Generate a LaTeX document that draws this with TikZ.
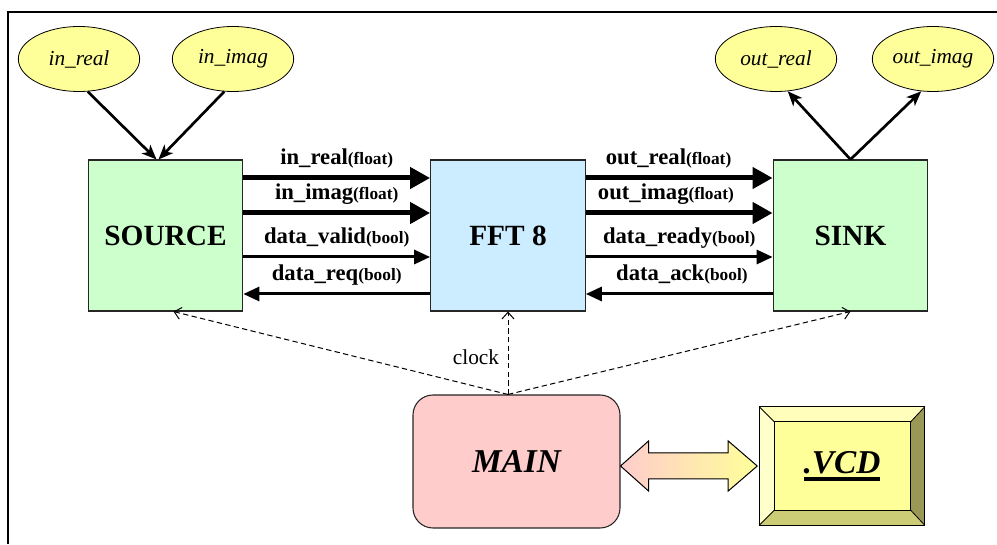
\documentclass[tikz,border=0pt]{standalone}
\usepackage{fontspec}
\setmainfont{Liberation Serif}
\usetikzlibrary{arrows.meta,shapes.geometric,calc}

\definecolor{srcgreen}{HTML}{CCFFCC}
\definecolor{fftblue}{HTML}{CCECFF}
\definecolor{portyellow}{HTML}{FFFF99}
\definecolor{mainpink}{HTML}{FFCCCC}
\definecolor{bevelleft}{HTML}{FFFFCC}
\definecolor{beveltop}{HTML}{FFFFBB}
\definecolor{bevelright}{HTML}{999955}
\definecolor{bevelbottom}{HTML}{CCCC77}

% smaller type tag after a signal name
\newcommand\typetag[1]{{\fontsize{13}{14}\selectfont #1}}
% heavy underline
\newcommand\thickul[1]{\setbox0\hbox{#1}\rlap{\vrule height -3pt depth 6pt width \wd0}\box0}

\begin{document}
\begin{tikzpicture}[x=0.75pt,y=-0.75pt,
  block/.style={draw=black!85, line width=0.8pt, minimum width=116pt,
    minimum height=113.25pt, inner sep=0,
    font=\fontsize{22}{24}\selectfont\bfseries},
  port/.style={ellipse, draw, fill=portyellow, line width=0.6pt,
    minimum width=91pt, minimum height=48.75pt, inner sep=0,
    font=\fontsize{16}{18}\selectfont\itshape},
  mainbox/.style={draw=black!85, line width=0.8pt, fill=mainpink,
    rounded corners=15pt, minimum width=155.25pt, minimum height=99.75pt,
    inner sep=0, font=\fontsize{25}{27}\selectfont\bfseries\itshape},
  vcdbox/.style={fill=portyellow, minimum width=123.75pt, minimum height=88.5pt,
    inner sep=0, font=\fontsize{25}{27}\selectfont\bfseries\itshape},
  feed/.style={line width=2pt, -{Stealth[length=11pt,width=9pt,inset=3pt]}},
  bus/.style={line width=3.75pt, -{Triangle[length=15pt,width=15.5pt]}},
  sig/.style={line width=2.25pt, -{Triangle[length=12pt,width=10.5pt]}},
  lbl/.style={anchor=base, yshift=10pt, inner sep=0,
    font=\fontsize{17}{18}\selectfont\bfseries},
  clk/.style={dash pattern=on 4pt off 2.5pt, line width=0.75pt,
    -{Straight Barb[length=5pt,width=9pt]}}
]
\useasboundingbox (0,0) rectangle (997,545);

% frame
\draw[line width=1.6pt] (8,544) -- (8,12) -- (997,12);

% blocks
\node[block, fill=srcgreen] (src)  at (165.5,235.5) {SOURCE};
\node[block, fill=fftblue]  (fft)  at (508,235.5)   {FFT 8};
\node[block, fill=srcgreen] (sink) at (850.5,235.5) {SINK};

% file ports
\node[port] (inre) at (79,59)  {in\_real};
\node[port] (inim) at (233,59) {in\_imag};
\node[port] (oure) at (776,59) {out\_real};
\node[port] (ouim) at (933,59) {out\_imag};

\draw[feed] (inre.-75) -- ($(src.north)+(-9,0)$);
\draw[feed] (inim.-105) -- ($(src.north)+(-7,0)$);
\draw[feed] (sink.north) -- (oure.-70);
\draw[feed] (sink.north) -- (ouim.-110);

% source -> fft
\draw[bus] (src.east |- 0,178) -- node[lbl]{in\_real\typetag{(float)}} (fft.west |- 0,178);
\draw[bus] (src.east |- 0,213) -- node[lbl]{in\_imag\typetag{(float)}} (fft.west |- 0,213);
\draw[sig] (src.east |- 0,257) -- node[lbl]{data\_valid\typetag{(bool)}} (fft.west |- 0,257);
\draw[sig] (fft.west |- 0,294) -- node[lbl]{data\_req\typetag{(bool)}} (src.east |- 0,294);

% fft -> sink
\draw[bus] (fft.east |- 0,178) -- node[lbl, xshift=-8pt]{out\_real\typetag{(float)}} (sink.west |- 0,178);
\draw[bus] (fft.east |- 0,213) -- node[lbl, xshift=-10pt]{out\_imag\typetag{(float)}} (sink.west |- 0,213);
\draw[sig] (fft.east |- 0,257) -- node[lbl]{data\_ready\typetag{(bool)}} (sink.west |- 0,257);
\draw[sig] (sink.west |- 0,294) -- node[lbl, xshift=2pt]{data\_ack\typetag{(bool)}} (fft.east |- 0,294);

% main and trace file
\node[mainbox] (main) at (516.5,461.5) {MAIN};
\node[vcdbox] (vcd) at (842,466) {\thickul{.VCD}};

% bevel faces of the trace file box
\fill[beveltop] (vcd.north west) -- (vcd.north east) -- ($(vcd.north east)+(-14,15)$) -- ($(vcd.north west)+(15,15)$) -- cycle;
\fill[bevelleft] (vcd.north west) -- (vcd.south west) -- ($(vcd.south west)+(15,-15)$) -- ($(vcd.north west)+(15,15)$) -- cycle;
\fill[bevelright] (vcd.north east) -- (vcd.south east) -- ($(vcd.south east)+(-14,-15)$) -- ($(vcd.north east)+(-14,15)$) -- cycle;
\fill[bevelbottom] (vcd.south west) -- (vcd.south east) -- ($(vcd.south east)+(-14,-15)$) -- ($(vcd.south west)+(15,-15)$) -- cycle;
\draw[line width=0.8pt] (vcd.north west) rectangle (vcd.south east);
\draw[line width=0.8pt] ($(vcd.north west)+(15,15)$) rectangle ($(vcd.south east)+(-14,-15)$);
\draw[line width=0.6pt] (vcd.north west) -- ++(15,15)
  (vcd.north east) -- ++(-14,15)
  (vcd.south west) -- ++(15,-15)
  (vcd.south east) -- ++(-14,-15);

% two-way transfer between main and the trace file
\coordinate (da) at (main.east |- vcd.west);
\coordinate (db) at ($(vcd.west)+(-2,0)$);
\filldraw[draw=black, line width=0.75pt, left color=mainpink, right color=portyellow]
  (da) -- ++(28,-25) -- ++(0,12) -- ($(db)+(-29,-13)$) -- ++(0,-12) -- (db)
  -- ++(-29,25) -- ++(0,-12) -- ($(da)+(28,13)$) -- ++(0,12) -- cycle;

% clock distribution
\coordinate (m) at (fft.south |- main.north);
\draw[clk] (m) -- ($(src.south)+(8,0)$);
\draw[clk] (m) -- node[left=3pt, pos=0.45, font=\fontsize{16}{18}\selectfont]{clock} (fft.south);
\draw[clk] (m) -- (sink.south);
\end{tikzpicture}
\end{document}
